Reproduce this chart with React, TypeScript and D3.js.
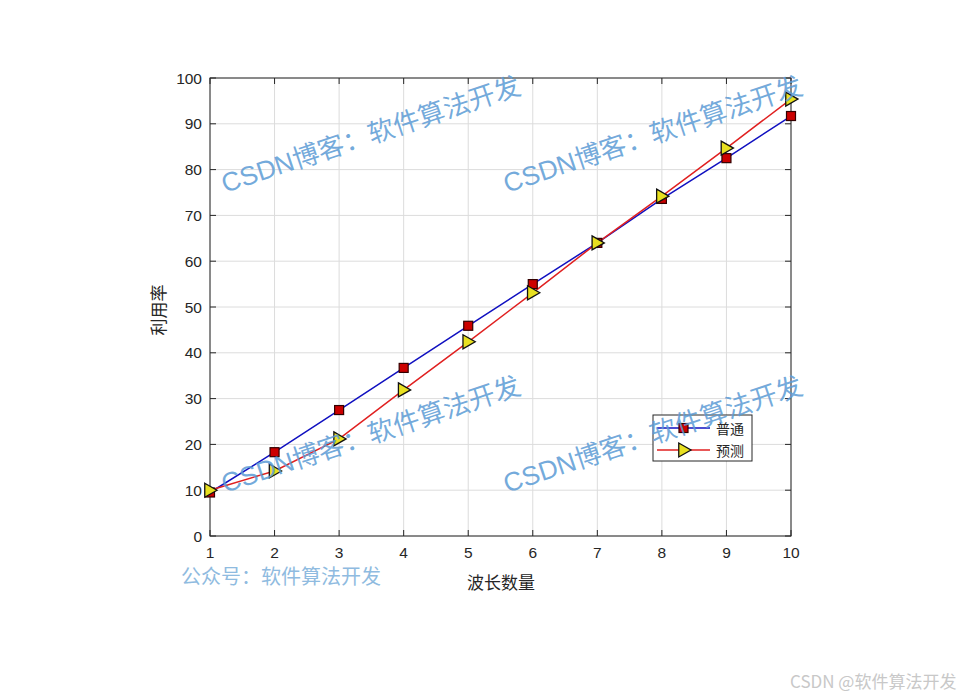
import React from "react";
import * as d3 from "d3";

const xValues = [1, 2, 3, 4, 5, 6, 7, 8, 9, 10];
const normalSeries = [9.5, 18.3, 27.5, 36.7, 45.9, 55.0, 64.0, 73.6, 82.5, 91.7];
const predictSeries = [10.0, 14.2, 21.2, 31.9, 42.4, 53.1, 64.0, 74.2, 84.7, 95.4];
const xTicks = [1, 2, 3, 4, 5, 6, 7, 8, 9, 10];
const yTicks = [0, 10, 20, 30, 40, 50, 60, 70, 80, 90, 100];
const seriesNames = ["普通", "预测"];
const watermarkPositions = [
  [225, 193],
  [507, 193],
  [225, 493],
  [507, 493],
];

export default function App() {
  const W = 977, H = 699;
  const left = 210, right = 791, top = 78, bottom = 536;
  const x = d3.scaleLinear().domain([1, 10]).range([left, right]);
  const y = d3.scaleLinear().domain([0, 100]).range([bottom, top]);
  const line = d3.line<number>().x((_, i) => x(xValues[i])).y((d) => y(d));
  const tickFont = "'Liberation Sans', Arial, sans-serif";
  const cjk = "'Noto Sans CJK SC', sans-serif";
  const blue = "#1010c0";
  const red = "#e02020";
  const tri = (cx: number, cy: number, s = 7) =>
    `M${cx - s * 0.75},${cy - s} L${cx + s},${cy} L${cx - s * 0.75},${cy + s} Z`;
  return (
    <svg width={W} height={H} style={{ position: "absolute", left: 0, top: 0, background: "#fff" }}>
      <rect x={0} y={0} width={W} height={H} fill="#fff" />
      {/* grid */}
      {xTicks.map((t) => (
        <line key={"gx" + t} x1={x(t)} x2={x(t)} y1={top} y2={bottom} stroke="#dcdcdc" strokeWidth={1} />
      ))}
      {yTicks.map((t) => (
        <line key={"gy" + t} x1={left} x2={right} y1={y(t)} y2={y(t)} stroke="#dcdcdc" strokeWidth={1} />
      ))}
      {/* box */}
      <rect x={left} y={top} width={right - left} height={bottom - top} fill="none" stroke="#262626" strokeWidth={1} />
      {/* ticks */}
      {xTicks.map((t) => (
        <g key={"tx" + t}>
          <line x1={x(t)} x2={x(t)} y1={bottom} y2={bottom - 6} stroke="#262626" />
          <line x1={x(t)} x2={x(t)} y1={top} y2={top + 6} stroke="#262626" />
          <text x={x(t)} y={bottom + 22} textAnchor="middle" fontFamily={tickFont} fontSize={15.5} fill="#262626">
            {t}
          </text>
        </g>
      ))}
      {yTicks.map((t) => (
        <g key={"ty" + t}>
          <line x1={left} x2={left + 6} y1={y(t)} y2={y(t)} stroke="#262626" />
          <line x1={right} x2={right - 6} y1={y(t)} y2={y(t)} stroke="#262626" />
          <text x={left - 8} y={y(t) + 5.5} textAnchor="end" fontFamily={tickFont} fontSize={15.5} fill="#262626">
            {t}
          </text>
        </g>
      ))}
      {/* axis labels */}
      <text x={501} y={589} textAnchor="middle" fontFamily={cjk} fontSize={17} fill="#262626">
        波长数量
      </text>
      <text
        transform={`translate(165,310) rotate(-90)`}
        textAnchor="middle"
        fontFamily={cjk}
        fontSize={17}
        fill="#262626"
      >
        利用率
      </text>
      {/* series lines */}
      <path d={line(normalSeries) || ""} fill="none" stroke={blue} strokeWidth={1.5} />
      <path d={line(predictSeries) || ""} fill="none" stroke={red} strokeWidth={1.5} />
      {normalSeries.map((v, i) => (
        <rect key={"s" + i} x={x(xValues[i]) - 4.5} y={y(v) - 4.5} width={9} height={9} fill="#cc0000" stroke="#330000" strokeWidth={1.2} />
      ))}
      {predictSeries.map((v, i) => (
        <path key={"t" + i} d={tri(x(xValues[i]), y(v))} fill="#e8e020" stroke="#111" strokeWidth={1.3} />
      ))}
      {/* legend */}
      <rect x={653} y={415} width={99} height={46} fill="#fff" stroke="#262626" strokeWidth={1} />
      <line x1={657} x2={710} y1={428} y2={428} stroke={blue} strokeWidth={1.5} />
      <rect x={679} y={423.5} width={9} height={9} fill="#cc0000" stroke="#330000" strokeWidth={1.2} />
      <text x={716} y={434} fontFamily={cjk} fontSize={14} fill="#262626">{seriesNames[0]}</text>
      <line x1={657} x2={710} y1={450} y2={450} stroke={red} strokeWidth={1.5} />
      <path d={tri(684, 450)} fill="#e8e020" stroke="#111" strokeWidth={1.3} />
      <text x={716} y={456} fontFamily={cjk} fontSize={14} fill="#262626">{seriesNames[1]}</text>
      {/* watermarks */}
      {watermarkPositions.map(([wx, wy], i) => (
        <text
          key={"wm" + i}
          transform={`translate(${wx},${wy}) rotate(-18.5)`}
          fontFamily={cjk}
          fontSize={26.5}
          fill="#5b9bd5"
          fillOpacity={0.85}
        >
          <tspan fontFamily={tickFont}>CSDN</tspan>博客：软件算法开发
        </text>
      ))}
      <text x={181} y={584} fontFamily={cjk} fontSize={20} fill="#8fbbe0">
        公众号：软件算法开发
      </text>
      <text x={790} y={688} fontFamily={cjk} fontSize={17} fill="#c8c8c8">
        CSDN @软件算法开发
      </text>
    </svg>
  );
}
